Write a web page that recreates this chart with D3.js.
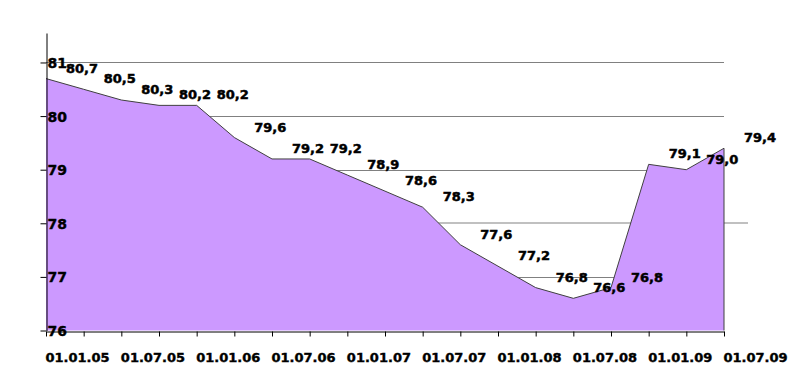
<!DOCTYPE html>
<html><head><meta charset="utf-8">
<script src="https://cdn.jsdelivr.net/npm/d3@7"></script>
<style>
body{margin:0;background:#fff;overflow:hidden}
text{font-family:"DejaVu Sans",Verdana,sans-serif;font-weight:bold;fill:#000}
</style>
</head><body><svg id="c" width="790" height="391"></svg>
<script>
// ---- data ----
const dates = ["01.01.05","01.04.05","01.07.05","01.10.05","01.01.06","01.04.06","01.07.06","01.10.06",
               "01.01.07","01.04.07","01.07.07","01.10.07","01.01.08","01.04.08","01.07.08","01.10.08",
               "01.01.09","01.04.09","01.07.09"];
const values = [80.7,80.5,80.3,80.2,80.2,79.6,79.2,79.2,78.9,78.6,78.3,77.6,77.2,76.8,76.6,76.8,79.1,79.0,79.4];
const yTicks = [76,77,78,79,80,81];
const xTickLabels = ["01.01.05","01.07.05","01.01.06","01.07.06","01.01.07","01.07.07","01.01.08","01.07.08","01.01.09","01.07.09"];
const refValue = 78;

// ---- layout ----
const svg = d3.select("#c");
const x = d3.scalePoint().domain(dates).range([46, 724]);
const y = d3.scaleLinear().domain([76, 81.55]).range([330.5, 33]);
const fmt = v => d3.format(".1f")(v).replace(".", ",");
const FONT = "'DejaVu Sans',Verdana,sans-serif";

// gridlines
svg.append("g").selectAll("line").data(yTicks.filter(t => t !== 76 && t !== refValue)).join("line")
  .attr("x1", 46).attr("x2", 724)
  .attr("y1", d => Math.round(y(d)) + 0.5).attr("y2", d => Math.round(y(d)) + 0.5)
  .attr("stroke", "#808080").attr("stroke-width", 1);
// reference line at 78
svg.append("line")
  .attr("x1", 46).attr("x2", 748)
  .attr("y1", Math.round(y(refValue))).attr("y2", Math.round(y(refValue)))
  .attr("stroke", "#c0c0c0").attr("stroke-width", 2);

// area
const area = d3.area().x((d, i) => x(dates[i])).y0(y(76)).y1(d => y(d));
svg.append("path").datum(values).attr("d", area).attr("fill", "#cc99ff");
const line = d3.line().x((d, i) => x(dates[i])).y(d => y(d));
svg.append("path").datum(values).attr("d", line).attr("fill", "none")
  .attr("stroke", "#404040").attr("stroke-width", 1);
// right edge
svg.append("line")
  .attr("x1", x(dates[dates.length - 1])).attr("x2", x(dates[dates.length - 1]))
  .attr("y1", y(values[values.length - 1])).attr("y2", y(76))
  .attr("stroke", "#404040").attr("stroke-width", 1);

// x axis
const xAxis = d3.axisBottom(x).tickSize(5).tickSizeOuter(0)
  .tickFormat(d => xTickLabels.includes(d) ? d : "");
const gx = svg.append("g").attr("transform", `translate(0,${Math.round(y(76)) + 0.5})`).call(xAxis);
gx.select(".domain").attr("stroke", "#000");
gx.selectAll(".tick line").attr("stroke", "#000");
gx.selectAll(".tick text").attr("text-anchor", "start").attr("x", -1).attr("y", 30).attr("dy", 0)
  .attr("stroke", "#000").attr("stroke-width", 0.4)
  .style("font-size", "13px").style("font-family", FONT).style("font-weight", "bold");

// y axis
const yAxis = d3.axisLeft(y).tickValues(yTicks).tickSize(6).tickSizeOuter(0).tickFormat(d3.format("d"));
const gy = svg.append("g").attr("transform", "translate(46.5,0)").call(yAxis);
gy.select(".domain").attr("stroke", "#000");
gy.selectAll(".tick line").attr("stroke", "#000");
gy.selectAll(".tick text").attr("text-anchor", "start").attr("x", 1).attr("dy", "0.36em")
  .attr("stroke", "#000").attr("stroke-width", 0.4)
  .style("font-size", "14px").style("font-family", FONT).style("font-weight", "bold");

// data labels
svg.append("g").selectAll("text").data(values).join("text")
  .attr("x", (d, i) => x(dates[i]) + 36)
  .attr("y", d => y(d) - 6)
  .attr("text-anchor", "middle")
  .attr("stroke", "#000").attr("stroke-width", 0.5)
  .style("font-size", "13px")
  .text(d => fmt(d));
</script>
</body></html>
